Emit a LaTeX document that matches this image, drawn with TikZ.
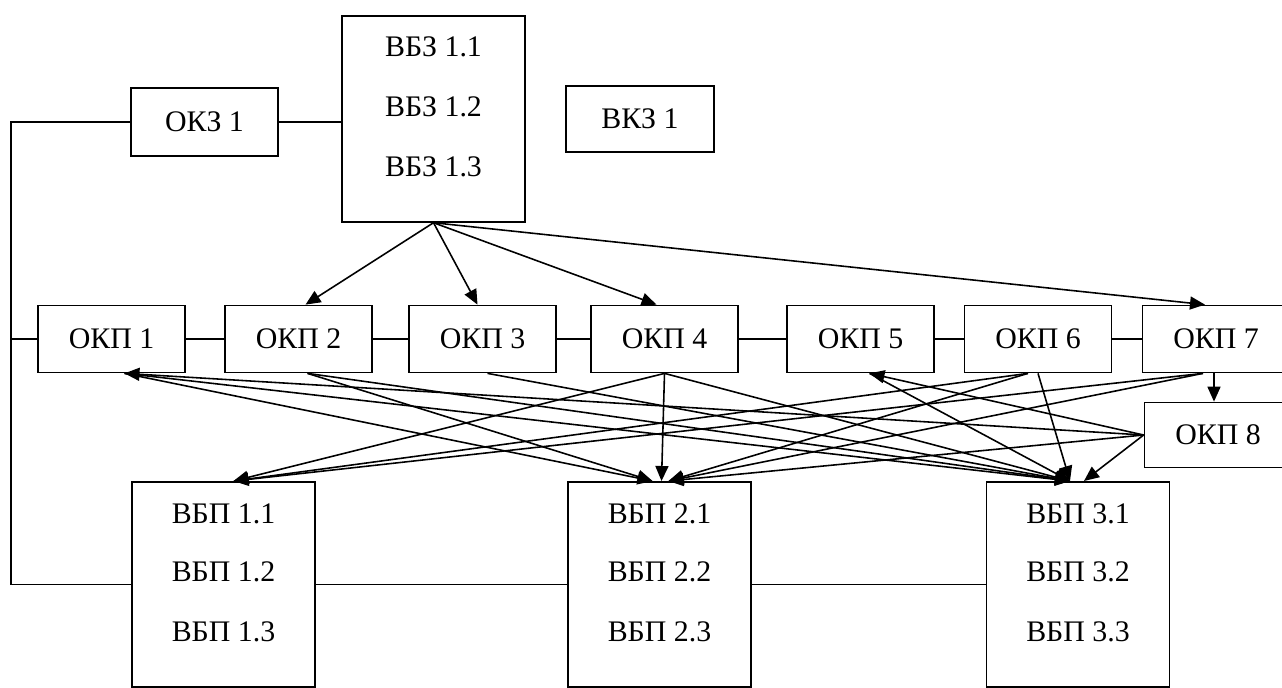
\documentclass[tikz,border=0pt]{standalone}
\usepackage{fontspec}
\setmainfont{Liberation Serif}
\usetikzlibrary{arrows.meta, calc}

\begin{document}
\begin{tikzpicture}[x=0.02cm, y=-0.02cm, >={Triangle[length=3mm, width=2.6mm]},
  box/.style={draw, line width=1pt, inner sep=0pt, font=\fontsize{17}{20}\selectfont},
  okpbox/.style={box, minimum width=2.94cm, minimum height=1.34cm},
  tallbox/.style={box, anchor=north, minimum width=3.66cm, minimum height=4.1cm},
  txt/.style={font=\fontsize{17}{20}\selectfont, inner sep=0pt},
  link/.style={line width=0.9pt}]
  \useasboundingbox (0,0) rectangle (1282,687);
  \clip (0,0) rectangle (1282,687);

  % Upper level
  \node[box, minimum width=2.94cm, minimum height=1.36cm] (okz) at (204.5,122) {ОКЗ 1};
  \node[tallbox, minimum height=4.12cm] (vbz) at (433.5,15) {};
  \node[txt] (vbz1) at ($(vbz.north)+(0,32)$) {ВБЗ 1.1};
  \node[txt] (vbz2) at ($(vbz.north)+(0,92)$) {ВБЗ 1.2};
  \node[txt] (vbz3) at ($(vbz.north)+(0,152)$) {ВБЗ 1.3};
  \node[box, minimum width=2.96cm, minimum height=1.32cm] (vkz) at (640,119) {ВКЗ 1};

  % Row of OKP
  \node[okpbox] (okp1) at (111.5,339) {ОКП 1};
  \node[okpbox] (okp2) at (298.5,339) {ОКП 2};
  \node[okpbox] (okp3) at (482.5,339) {ОКП 3};
  \node[okpbox] (okp4) at (664.5,339) {ОКП 4};
  \node[okpbox] (okp5) at (860.5,339) {ОКП 5};
  \node[okpbox] (okp6) at (1038,339) {ОКП 6};
  \node[okpbox] (okp7) at (1216,339) {ОКП 7};
  \node[okpbox, minimum height=1.3cm] (okp8) at (1218,435) {ОКП 8};

  % Lower level
  \node[tallbox] (vbp1) at (223.5,481) {};
  \node[tallbox] (vbp2) at (659.5,481) {};
  \node[tallbox] (vbp3) at (1078,481) {};
  \node[txt] (vbp11) at ($(vbp1.north)+(0,33)$) {ВБП 1.1};
  \node[txt] (vbp12) at ($(vbp1.north)+(0,91)$) {ВБП 1.2};
  \node[txt] (vbp13) at ($(vbp1.north)+(0,151)$) {ВБП 1.3};
  \node[txt] (vbp21) at ($(vbp2.north)+(0,33)$) {ВБП 2.1};
  \node[txt] (vbp22) at ($(vbp2.north)+(0,91)$) {ВБП 2.2};
  \node[txt] (vbp23) at ($(vbp2.north)+(0,151)$) {ВБП 2.3};
  \node[txt] (vbp31) at ($(vbp3.north)+(0,33)$) {ВБП 3.1};
  \node[txt] (vbp32) at ($(vbp3.north)+(0,91)$) {ВБП 3.2};
  \node[txt] (vbp33) at ($(vbp3.north)+(0,151)$) {ВБП 3.3};

  % Plain links
  \coordinate (lt) at (11,122);
  \draw[link] (okz.west) -- (okz.west -| lt) |- (vbp1.west);
  \draw[link] (okp1.west) -- (okp1.west -| lt);
  \draw[link] (okz.east) -- (okz.east -| vbz.west);
  \draw[link] (okp1) -- (okp2) -- (okp3) -- (okp4) -- (okp5) -- (okp6) -- (okp7);
  \draw[link] (vbp1) -- (vbp2) -- (vbp3);

  % Arrows from VBZ
  \draw[link, ->] (vbz.south) -- ($(okp2.north)+(7,0)$);
  \draw[link, ->] (vbz.south) -- ($(okp3.north)+(-5,0)$);
  \draw[link, ->] (vbz.south) -- ($(okp4.north)+(-8,0)$);
  \draw[link, ->] (vbz.south) -- ($(okp7.north)+(-11,0)$);
  \draw[link, ->] ($(okp7.south)+(-2,0)$) -- ($(okp8.north)+(-4,0)$);

  % Points on the box edges
  \coordinate (p1) at ($(okp1.south)+(13,0)$);
  \coordinate (p2) at ($(okp2.south)+(9,0)$);
  \coordinate (p3) at ($(okp3.south)+(5,0)$);
  \coordinate (p4) at (okp4.south);
  \coordinate (p5) at ($(okp5.south)+(9,0)$);
  \coordinate (p6a) at ($(okp6.south)+(-10,0)$);
  \coordinate (p6b) at (okp6.south);
  \coordinate (p7) at ($(okp7.south)+(-13,0)$);
  \coordinate (q1) at ($(vbp1.north)+(10,0)$);
  \coordinate (q2a) at ($(vbp2.north)+(-7,0)$);
  \coordinate (q2c) at ($(vbp2.north)+(2,0)$);
  \coordinate (q2b) at ($(vbp2.north)+(9,0)$);
  \coordinate (q3a) at ($(vbp3.north)+(-8,0)$);
  \coordinate (q3b) at ($(vbp3.north)+(6,0)$);

  % Cross links
  \draw[link, ->] (okp8.west) -- (p1);
  \draw[link, ->] (okp8.west) -- (p5);
  \draw[link, ->] (p1) -- (q2a);
  \draw[link, ->] (p1) -- (q3a);
  \draw[link, ->] (p2) -- (q2a);
  \draw[link, ->] (p2) -- (q3a);
  \draw[link, ->] (p3) -- (q3a);
  \draw[link, ->] (p4) -- (q1);
  \draw[link, ->] (p4) -- (q2c);
  \draw[link, ->] (p4) -- (q3a);
  \draw[link, ->] (p5) -- (q3a);
  \draw[link, ->] (p6a) -- (q1);
  \draw[link, ->] (p6a) -- (q2b);
  \draw[link, ->] (p6b) -- (q3a);
  \draw[link, ->] (p7) -- (q1);
  \draw[link, ->] (p7) -- (q2b);
  \draw[link, ->] (okp8.west) -- (q2b);
  \draw[link, ->] (okp8.west) -- (q3b);
\end{tikzpicture}
\end{document}
